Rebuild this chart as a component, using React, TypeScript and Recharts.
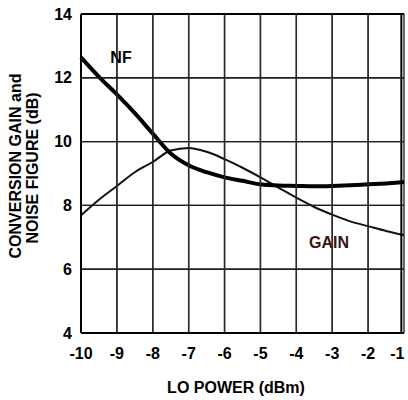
import { CartesianGrid, Line, LineChart, XAxis, YAxis } from "recharts";

// LO power sweep, half-dBm steps
const loPower = [-10, -9.5, -9, -8.5, -8, -7.5, -7, -6.5, -6, -5.5, -5, -4.5, -4, -3.5, -3, -2.5, -2, -1.5, -1];
const noiseFigure = [12.64, 12.03, 11.48, 10.89, 10.25, 9.63, 9.26, 9.04, 8.88, 8.77, 8.66, 8.62, 8.61, 8.6, 8.61, 8.63, 8.66, 8.69, 8.73];
const conversionGain = [7.69, 8.18, 8.61, 9.04, 9.36, 9.72, 9.8, 9.68, 9.45, 9.18, 8.88, 8.56, 8.24, 7.95, 7.71, 7.5, 7.35, 7.2, 7.07];

const xTicks = [-10, -9, -8, -7, -6, -5, -4, -3, -2, -1];
const yTicks = [4, 6, 8, 10, 12, 14];

const W = 408;
const H = 400;
const M = { top: 14, right: 4, bottom: 0, left: 0 };
const plotLeft = 81;
const plotRight = W - M.right;
const plotTop = M.top;
const plotBottom = H - 67;

const font = "Liberation Sans, Arial, sans-serif";

const data = loPower.map((x, i) => ({
  lo: x,
  nf: noiseFigure[i],
  gain: conversionGain[i],
}));

const YTitle = () => (
  <g fontFamily={font} fontWeight={700} fontSize={16} fill="#000" textAnchor="middle">
    <text x={21} y={166} transform="rotate(-90 21 166)">
      CONVERSION GAIN and
    </text>
    <text x={38} y={168} transform="rotate(-90 38 168)">
      NOISE FIGURE (dB)
    </text>
  </g>
);

// axis title plus the two curve labels
const XTitle = () => (
  <g fontFamily={font} fontWeight={700} fontSize={16} textAnchor="middle">
    <text x={236} y={393} fill="#000">
      LO POWER (dBm)
    </text>
    <text x={121} y={63} fill="#000">
      NF
    </text>
    <text x={329} y={248} fill="#3a1216">
      GAIN
    </text>
  </g>
);

// tick label + its vertical gridline (drawn as a path); titles ride along with the first tick
const XTick = ({ x, y, payload }: any) => {
  const edge = payload.value === -10 || payload.value === -1;
  return (
    <g>
      <path
        d={`M${x},${plotTop}L${x},${plotBottom}`}
        fill="none"
        stroke={edge ? "#000" : "#2b2b2b"}
        strokeWidth={edge ? 2 : 1.4}
      />
      <text
        x={payload.value === -1 ? x - 4 : x}
        y={y + 7}
        dy="0.71em"
        textAnchor="middle"
        fontFamily={font}
        fontWeight={700}
        fontSize={16}
        fill="#000"
      >
        {payload.value}
      </text>
      {payload.value === -10 && <XTitle />}
    </g>
  );
};

const YTick = ({ x, y, payload }: any) => {
  const edge = payload.value === 4 || payload.value === 14;
  return (
    <g>
      <path
        d={`M${plotLeft},${y}L${plotRight},${y}`}
        fill="none"
        stroke={edge ? "#000" : "#1e1e1e"}
        strokeWidth={edge ? 2 : 1.4}
      />
      <text
        x={x - 1}
        y={y}
        dy="0.355em"
        textAnchor="end"
        fontFamily={font}
        fontWeight={700}
        fontSize={16}
        fill="#000"
      >
        {payload.value}
      </text>
      {payload.value === 4 && <YTitle />}
    </g>
  );
};

export default function App() {
  return (
    <div style={{ position: "absolute", left: 0, top: 0, background: "#fff" }}>
      <LineChart width={W} height={H} data={data} margin={M}>
        <CartesianGrid stroke="#2b2b2b" strokeWidth={1.4} />
        <XAxis
          dataKey="lo"
          type="number"
          domain={[-10, -1]}
          ticks={xTicks}
          height={67}
          tickLine={{ stroke: "#fff" }}
          axisLine={{ stroke: "#000", strokeWidth: 2 }}
          tick={<XTick />}
        />
        <YAxis
          type="number"
          domain={[4, 14]}
          ticks={yTicks}
          width={81}
          tickLine={{ stroke: "#fff" }}
          axisLine={{ stroke: "#000", strokeWidth: 2 }}
          tick={<YTick />}
        />
        <Line type="monotone" dataKey="gain" stroke="#111" strokeWidth={2} dot={false} isAnimationActive={false} />
        <Line type="monotone" dataKey="nf" stroke="#000" strokeWidth={4} dot={false} isAnimationActive={false} />
      </LineChart>
    </div>
  );
}
